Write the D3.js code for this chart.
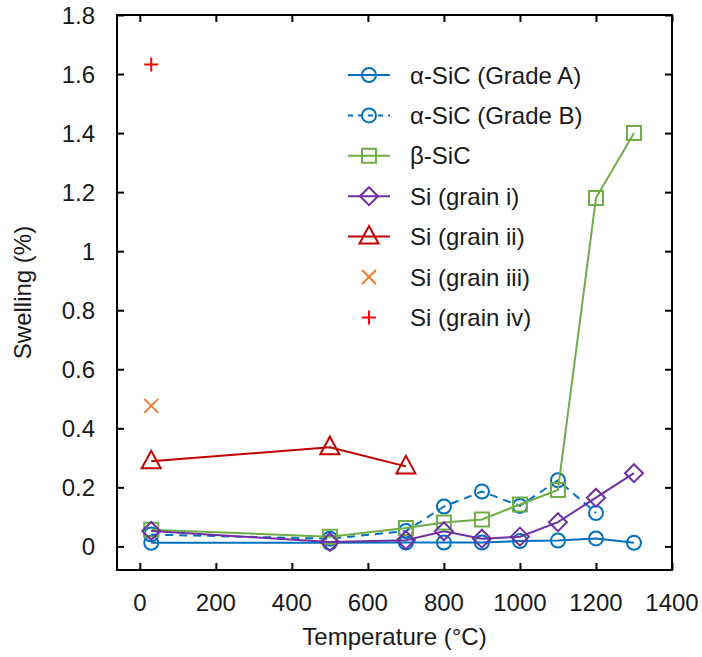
<!DOCTYPE html>
<html>
<head>
<meta charset="utf-8">
<script src="https://cdn.jsdelivr.net/npm/d3@7"></script>
<style>
  body { margin: 0; background: #fff; }
  text { font-family: "Liberation Sans", Arial, sans-serif; fill: #1a1a1a; }
</style>
</head>
<body>
<div id="chart"></div>
<script>
// temperatures (°C)
var tempsA = [30, 500, 700, 800, 900, 1000, 1100, 1200, 1300];
var swellA = [0.012, 0.012, 0.013, 0.013, 0.013, 0.018, 0.02, 0.027, 0.012];

var tempsB = [30, 500, 700, 800, 900, 1000, 1100, 1200];
var swellB = [0.04, 0.026, 0.052, 0.135, 0.186, 0.137, 0.224, 0.113];

var tempsBeta = [30, 500, 700, 800, 900, 1000, 1100, 1200, 1300];
var swellBeta = [0.056, 0.033, 0.062, 0.081, 0.091, 0.142, 0.191, 1.18, 1.4];

var tempsSi1 = [30, 500, 700, 800, 900, 1000, 1100, 1200, 1300];
var swellSi1 = [0.052, 0.015, 0.021, 0.051, 0.026, 0.033, 0.082, 0.165, 0.248];

var tempsSi2 = [30, 500, 700];
var swellSi2 = [0.288, 0.336, 0.271];

var tempsSi3 = [30];
var swellSi3 = [0.476];

var tempsSi4 = [30];
var swellSi4 = [1.632];

var seriesNames = ["α-SiC (Grade A)", "α-SiC (Grade B)", "β-SiC", "Si (grain i)", "Si (grain ii)", "Si (grain iii)", "Si (grain iv)"];
var xTicks = [0, 200, 400, 600, 800, 1000, 1200, 1400];
var yTicks = [0, 0.2, 0.4, 0.6, 0.8, 1, 1.2, 1.4, 1.6, 1.8];

var series = [
    {name: seriesNames[0], x: tempsA, y: swellA, color: "#0070C0", marker: "circle", line: true, dash: null},
    {name: seriesNames[1], x: tempsB, y: swellB, color: "#0070C0", marker: "circle", line: true, dash: "8,6"},
    {name: seriesNames[2], x: tempsBeta, y: swellBeta, color: "#70AD47", marker: "square", line: true, dash: null},
    {name: seriesNames[3], x: tempsSi1, y: swellSi1, color: "#7030A0", marker: "diamond", line: true, dash: null},
    {name: seriesNames[4], x: tempsSi2, y: swellSi2, color: "#C00000", marker: "triangle", line: true, dash: null},
    {name: seriesNames[5], x: tempsSi3, y: swellSi3, color: "#ED7D31", marker: "cross", line: false, dash: null},
    {name: seriesNames[6], x: tempsSi4, y: swellSi4, color: "#FF0000", marker: "plus", line: false, dash: null}
];

var W = 702, H = 657;
var mLeft = 117, mTop = 15, mRight = 672, mBottom = 570;

var svg = d3.select("#chart").append("svg")
    .attr("width", W)
    .attr("height", H);

var x = d3.scaleLinear().domain([-60, 1400]).range([mLeft, mRight]);
var y = d3.scaleLinear().domain([-0.08, 1.8]).range([mBottom, mTop]);

// marker path generator, centred at 0,0
function markerPath(type) {
    var p = d3.path();
    if (type == "circle") {
        p.arc(0, 0, 7, 0, 2 * Math.PI);
    } else if (type == "square") {
        p.rect(-7, -7, 14, 14);
    } else if (type == "diamond") {
        p.moveTo(0, -9); p.lineTo(9, 0); p.lineTo(0, 9); p.lineTo(-9, 0); p.closePath();
    } else if (type == "triangle") {
        p.moveTo(0, -10.5); p.lineTo(9.5, 7); p.lineTo(-9.5, 7); p.closePath();
    } else if (type == "cross") {
        p.moveTo(-7, -7); p.lineTo(7, 7); p.moveTo(7, -7); p.lineTo(-7, 7);
    } else if (type == "plus") {
        p.moveTo(-7, 0); p.lineTo(7, 0); p.moveTo(0, -7); p.lineTo(0, 7);
    }
    return p.toString();
}

var plot = svg.append("g");

var line = d3.line()
    .x(function (d) { return x(d[0]); })
    .y(function (d) { return y(d[1]); });

series.forEach(function (s) {
    var pts = s.x.map(function (t, i) { return [t, s.y[i]]; });
    if (s.line) {
        plot.append("path")
            .datum(pts)
            .attr("d", line)
            .attr("fill", "none")
            .attr("stroke", s.color)
            .attr("stroke-width", 2)
            .attr("stroke-dasharray", s.dash);
    }
    plot.selectAll(null)
        .data(pts)
        .enter()
        .append("path")
        .attr("transform", function (d) { return "translate(" + x(d[0]) + "," + y(d[1]) + ")"; })
        .attr("d", markerPath(s.marker))
        .attr("fill", "none")
        .attr("stroke", s.color)
        .attr("stroke-width", 2);
});

// axes: ticks pointing inward on all four sides
var tickLen = 7;
svg.append("g")
    .attr("transform", "translate(0," + mBottom + ")")
    .call(d3.axisTop(x).tickValues(xTicks).tickSize(tickLen).tickFormat(""))
    .call(function (g) { g.select(".domain").remove(); });
svg.append("g")
    .attr("transform", "translate(0," + mTop + ")")
    .call(d3.axisBottom(x).tickValues(xTicks).tickSize(tickLen).tickFormat(""))
    .call(function (g) { g.select(".domain").remove(); });
svg.append("g")
    .attr("transform", "translate(" + mLeft + ",0)")
    .call(d3.axisRight(y).tickValues(yTicks).tickSize(tickLen).tickFormat(""))
    .call(function (g) { g.select(".domain").remove(); });
svg.append("g")
    .attr("transform", "translate(" + mRight + ",0)")
    .call(d3.axisLeft(y).tickValues(yTicks).tickSize(tickLen).tickFormat(""))
    .call(function (g) { g.select(".domain").remove(); });
svg.selectAll(".tick line").attr("stroke", "#000").attr("stroke-width", 2);

svg.append("rect")
    .attr("x", mLeft).attr("y", mTop)
    .attr("width", mRight - mLeft).attr("height", mBottom - mTop)
    .attr("fill", "none")
    .attr("stroke", "#000")
    .attr("stroke-width", 2);

// tick labels
svg.selectAll(".xlab")
    .data(xTicks)
    .enter()
    .append("text")
    .attr("x", function (d) { return x(d); })
    .attr("y", 611)
    .attr("text-anchor", "middle")
    .style("font-size", "24px")
    .text(function (d) { return d; });

svg.selectAll(".ylab")
    .data(yTicks)
    .enter()
    .append("text")
    .attr("x", 95)
    .attr("y", function (d) { return y(d) + 8.5; })
    .attr("text-anchor", "end")
    .style("font-size", "24px")
    .text(function (d) { return d; });

svg.append("text")
    .attr("x", (mLeft + mRight) / 2)
    .attr("y", 645)
    .attr("text-anchor", "middle")
    .style("font-size", "24px")
    .text("Temperature (°C)");

svg.append("text")
    .attr("transform", "translate(31," + (mTop + mBottom) / 2 + ") rotate(-90)")
    .attr("text-anchor", "middle")
    .style("font-size", "24px")
    .text("Swelling (%)");

// legend
var legend = svg.append("g").attr("transform", "translate(348,75)");
var rowH = 40.4;
series.forEach(function (s, i) {
    var row = legend.append("g").attr("transform", "translate(0," + (i * rowH) + ")");
    if (s.line) {
        row.append("line")
            .attr("x1", 0).attr("x2", 42)
            .attr("y1", 0).attr("y2", 0)
            .attr("stroke", s.color)
            .attr("stroke-width", 2)
            .attr("stroke-dasharray", s.dash ? "5,5" : null);
    }
    row.append("path")
        .attr("transform", "translate(21,0)")
        .attr("d", markerPath(s.marker))
        .attr("fill", "none")
        .attr("stroke", s.color)
        .attr("stroke-width", 2);
    row.append("text")
        .attr("x", 62)
        .attr("y", 8.5)
        .style("font-size", "24px")
        .text(s.name);
});
</script>
</body>
</html>
